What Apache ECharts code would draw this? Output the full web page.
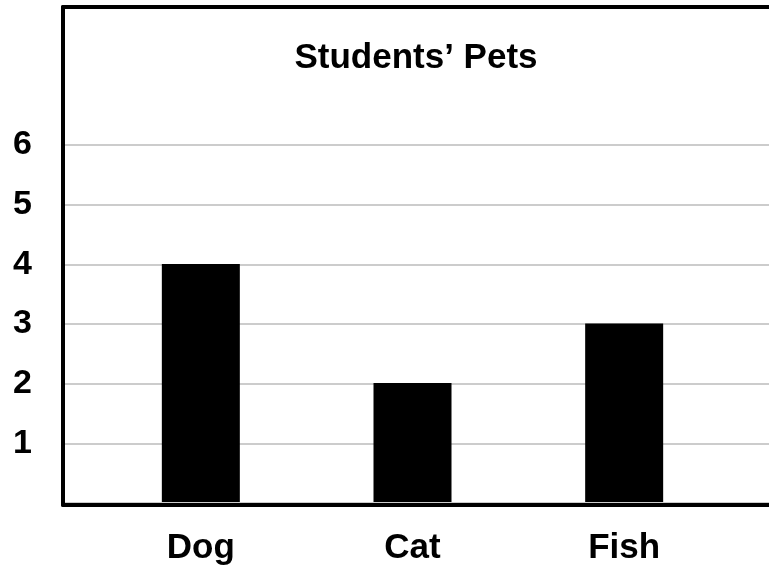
<!DOCTYPE html>
<html>
<head>
<meta charset="utf-8">
<script src="https://cdn.jsdelivr.net/npm/echarts@6/dist/echarts.min.js"></script>
<style>
  html, body { margin: 0; padding: 0; background: #fff; }
  #main { width: 769px; height: 566px; }
</style>
</head>
<body>
<div id="main"></div>
<script>
var categories = ["Dog", "Cat", "Fish"];
var petCounts = [4, 2, 3];
var yTicks = [0, 1, 2, 3, 4, 5, 6];
var titleText = "Students’ Pets";

var font = "'Liberation Sans', Arial, Helvetica, sans-serif";
var frameLine = { show: true, lineStyle: { color: "#000", width: 4 } };
var myChart = echarts.init(document.getElementById("main"));

var option = {
  backgroundColor: "#fff",
  animation: false,
  title: {
    text: titleText,
    left: 411,
    top: 36,
    textAlign: "center",
    textStyle: { fontFamily: font, fontWeight: "bold", fontSize: 35, color: "#000" }
  },
  grid: [
    // frame (left, top, bottom lines)
    { left: 63, right: 0, top: 7, bottom: 61 },
    // gridlines + y labels
    { left: 63, right: 0, top: 145, bottom: 63 },
    // bars
    { left: 95, right: 39, top: 145, bottom: 63 }
  ],
  xAxis: [
    { gridIndex: 0, type: "value", position: "bottom", axisLine: frameLine, axisTick: { show: false }, axisLabel: { show: false }, splitLine: { show: false }, z: 5 },
    { gridIndex: 1, type: "value", show: false },
    {
      gridIndex: 2,
      type: "category",
      data: categories,
      axisLine: { show: false },
      axisTick: { show: false },
      axisLabel: { margin: 29, fontFamily: font, fontWeight: "bold", fontSize: 35, color: "#000" }
    },
    { gridIndex: 0, type: "value", position: "top", axisLine: frameLine, axisTick: { show: false }, axisLabel: { show: false }, splitLine: { show: false }, z: 5 }
  ],
  yAxis: [
    { gridIndex: 0, type: "value", position: "left", axisLine: frameLine, axisTick: { show: false }, axisLabel: { show: false }, splitLine: { show: false }, z: 5 },
    {
      gridIndex: 1,
      type: "value",
      min: yTicks[0],
      max: yTicks[yTicks.length - 1],
      interval: 1,
      axisLine: { show: false },
      axisTick: { show: false },
      splitLine: { lineStyle: { color: "#cccccc", width: 2 } },
      axisLabel: {
        margin: 31,
        fontFamily: font,
        fontWeight: "bold",
        fontSize: 34,
        color: "#000",
        formatter: function (v) { return v === 0 ? "" : v; }
      }
    },
    {
      gridIndex: 2,
      type: "value",
      min: yTicks[0],
      max: yTicks[yTicks.length - 1],
      show: false
    }
  ],
  series: [
    {
      type: "bar",
      xAxisIndex: 2,
      yAxisIndex: 2,
      data: petCounts,
      barWidth: 78,
      itemStyle: { color: "#000" }
    }
  ]
};
myChart.setOption(option);
</script>
</body>
</html>
